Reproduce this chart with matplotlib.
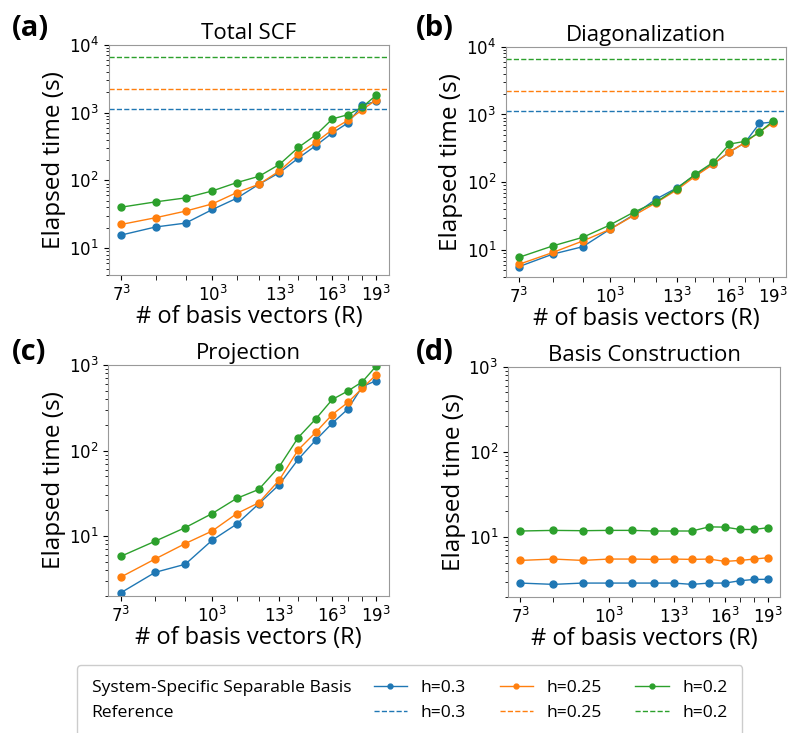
import matplotlib
matplotlib.use("Agg")
import matplotlib.pyplot as plt
from matplotlib.lines import Line2D
import numpy as np

plt.rcParams['font.family'] = ['DejaVu Sans']
plt.rcParams['mathtext.fontset'] = 'dejavusans'
LBL_FONT = ['Open Sans', 'Noto Sans', 'DejaVu Sans']

# ---------------- data ----------------
R = [7, 8, 9, 10, 11, 12, 13, 14, 15, 16, 17, 18, 19]
h_labels = ['h=0.3', 'h=0.25', 'h=0.2']
colors = ['#1f77b4', '#ff7f0e', '#2ca02c']

scf_h030 = [15.7, 20.6, 23.5, 37.3, 54.7, 87.8, 130, 213, 327, 501, 703, 1290, 1462]
scf_h025 = [22.5, 28.2, 35.3, 45.2, 66.2, 87.8, 138, 244, 366, 561, 769, 1103, 1545]
scf_h020 = [40.4, 48.3, 55.3, 70.1, 92.9, 115, 172, 306, 469, 805, 931, 1207, 1808]

diag_h030 = [5.67, 8.7, 11.2, 20.1, 33.2, 56.5, 82, 128, 186, 279, 383, 739, 773]
diag_h025 = [6.14, 9.2, 13.6, 20.1, 32.4, 49.9, 76.7, 123, 184, 279, 383, 557, 757]
diag_h020 = [7.78, 11.5, 15.4, 23.3, 36.3, 51, 80.3, 132, 196, 366, 401, 544, 809]

proj_h030 = [2.19, 3.78, 4.7, 8.98, 13.8, 23.9, 40, 79, 133, 209, 305, 562, 655]
proj_h025 = [3.34, 5.42, 8.2, 11.5, 18.3, 24.6, 45.3, 102, 164, 264, 365, 537, 770]
proj_h020 = [5.83, 8.74, 12.6, 18.4, 27.6, 35.2, 64.9, 142, 235, 396, 496, 638, 973]

basis_h030 = [2.89, 2.79, 2.89, 2.89, 2.89, 2.89, 2.89, 2.79, 2.89, 2.89, 3.08, 3.19, 3.2]
basis_h025 = [5.33, 5.53, 5.33, 5.53, 5.53, 5.48, 5.53, 5.48, 5.53, 5.19, 5.33, 5.53, 5.73]
basis_h020 = [11.8, 12.0, 11.9, 12.0, 12.0, 11.8, 11.8, 11.8, 13.2, 13.1, 12.3, 12.3, 12.9]

# reference (full-basis) timings
ref_scf = [1120, 2230, 6530]
ref_diag = [1120, 2230, 6530]

titles = ['Total SCF', 'Diagonalization', 'Projection', 'Basis Construction']
panel_letters = ['(a)', '(b)', '(c)', '(d)']
tick_R = [7, 10, 13, 16, 19]

panels = [
    ([scf_h030, scf_h025, scf_h020], ref_scf, (4, 1e4)),
    ([diag_h030, diag_h025, diag_h020], ref_diag, (4, 1e4)),
    ([proj_h030, proj_h025, proj_h020], None, (2, 1e3)),
    ([basis_h030, basis_h025, basis_h020], None, (2, 1e3)),
]

W, H = 794, 733
fig = plt.figure(figsize=(W / 100, H / 100), dpi=100)

# axes boxes in pixels: left, top, right, bottom
boxes = [(108.7, 44.7, 389, 275.3), (506, 46.7, 786, 277),
         (108.3, 365, 389, 596), (508, 366.7, 780, 596.7)]
letter_pos = [(12, 36), (416, 36), (12, 360), (416, 360)]

x = np.array(R, dtype=float) ** 3

for i, (series, refs, ylim) in enumerate(panels):
    l, t, r, b = boxes[i]
    ax = fig.add_axes([l / W, 1 - b / H, (r - l) / W, (b - t) / H])
    for s, c, lab in zip(series, colors, h_labels):
        ax.plot(x, s, '-o', color=c, lw=1, ms=5, label=lab)
    if refs is not None:
        for v, c in zip(refs, colors):
            ax.axhline(v, color=c, ls='--', lw=1)
    ax.set_xscale('log')
    ax.set_yscale('log')
    ax.set_ylim(*ylim)
    ax.set_xticks([v ** 3 for v in tick_R])
    ax.set_xticklabels([r'$%d^3$' % v for v in tick_R])
    ax.set_xticks([v ** 3 for v in R if v not in tick_R], minor=True)
    ax.set_xticklabels([], minor=True)
    ax.tick_params(axis='both', which='major', labelsize=12)
    ax.tick_params(axis='x', which='minor', length=3.5)
    for sp in ax.spines.values():
        sp.set_edgecolor('#999999')
    ax.set_title(titles[i], fontsize=16, family=LBL_FONT, pad=4)
    ax.set_ylabel('Elapsed time (s)', fontsize=17.5, family=LBL_FONT, labelpad=2)
    ax.set_xlabel('# of basis vectors (R)', fontsize=17, family=LBL_FONT, labelpad=0)
    lx, ly = letter_pos[i]
    fig.text(lx / W, 1 - ly / H, panel_letters[i], fontsize=21, fontweight='bold',
             family=LBL_FONT, ha='left', va='baseline')

# legend
blank = Line2D([], [], linestyle='none')
handles = [blank, blank]
labels = ['System-Specific Separable Basis', 'Reference']
for c, lab in zip(colors, h_labels):
    handles.append(Line2D([], [], color=c, lw=1, marker='o', ms=3.5))
    handles.append(Line2D([], [], color=c, lw=1, ls='--'))
    labels += [lab, lab]
leg = fig.legend(handles, labels, ncol=4, loc='upper left',
                 bbox_to_anchor=(77 / W, 1 - 665 / H), borderaxespad=0,
                 prop={'family': LBL_FONT, 'size': 12.6}, borderpad=0.84,
                 handlelength=1.9, handletextpad=0.78, columnspacing=1.29,
                 labelspacing=0.5, framealpha=1)
cols = leg._legend_handle_box.get_children()
for row in cols[0].get_children():
    kids = row.get_children()
    kids[0].width = 0
    row.sep = 0
extra = (1.92 - 1.29) * 12.6  # points of extra space before columns 3 and 4
for col in cols[2:]:
    for row in col.get_children():
        da = row.get_children()[0]
        da.width += extra
        da.xdescent = extra

fig.savefig('out.png', dpi=100)
